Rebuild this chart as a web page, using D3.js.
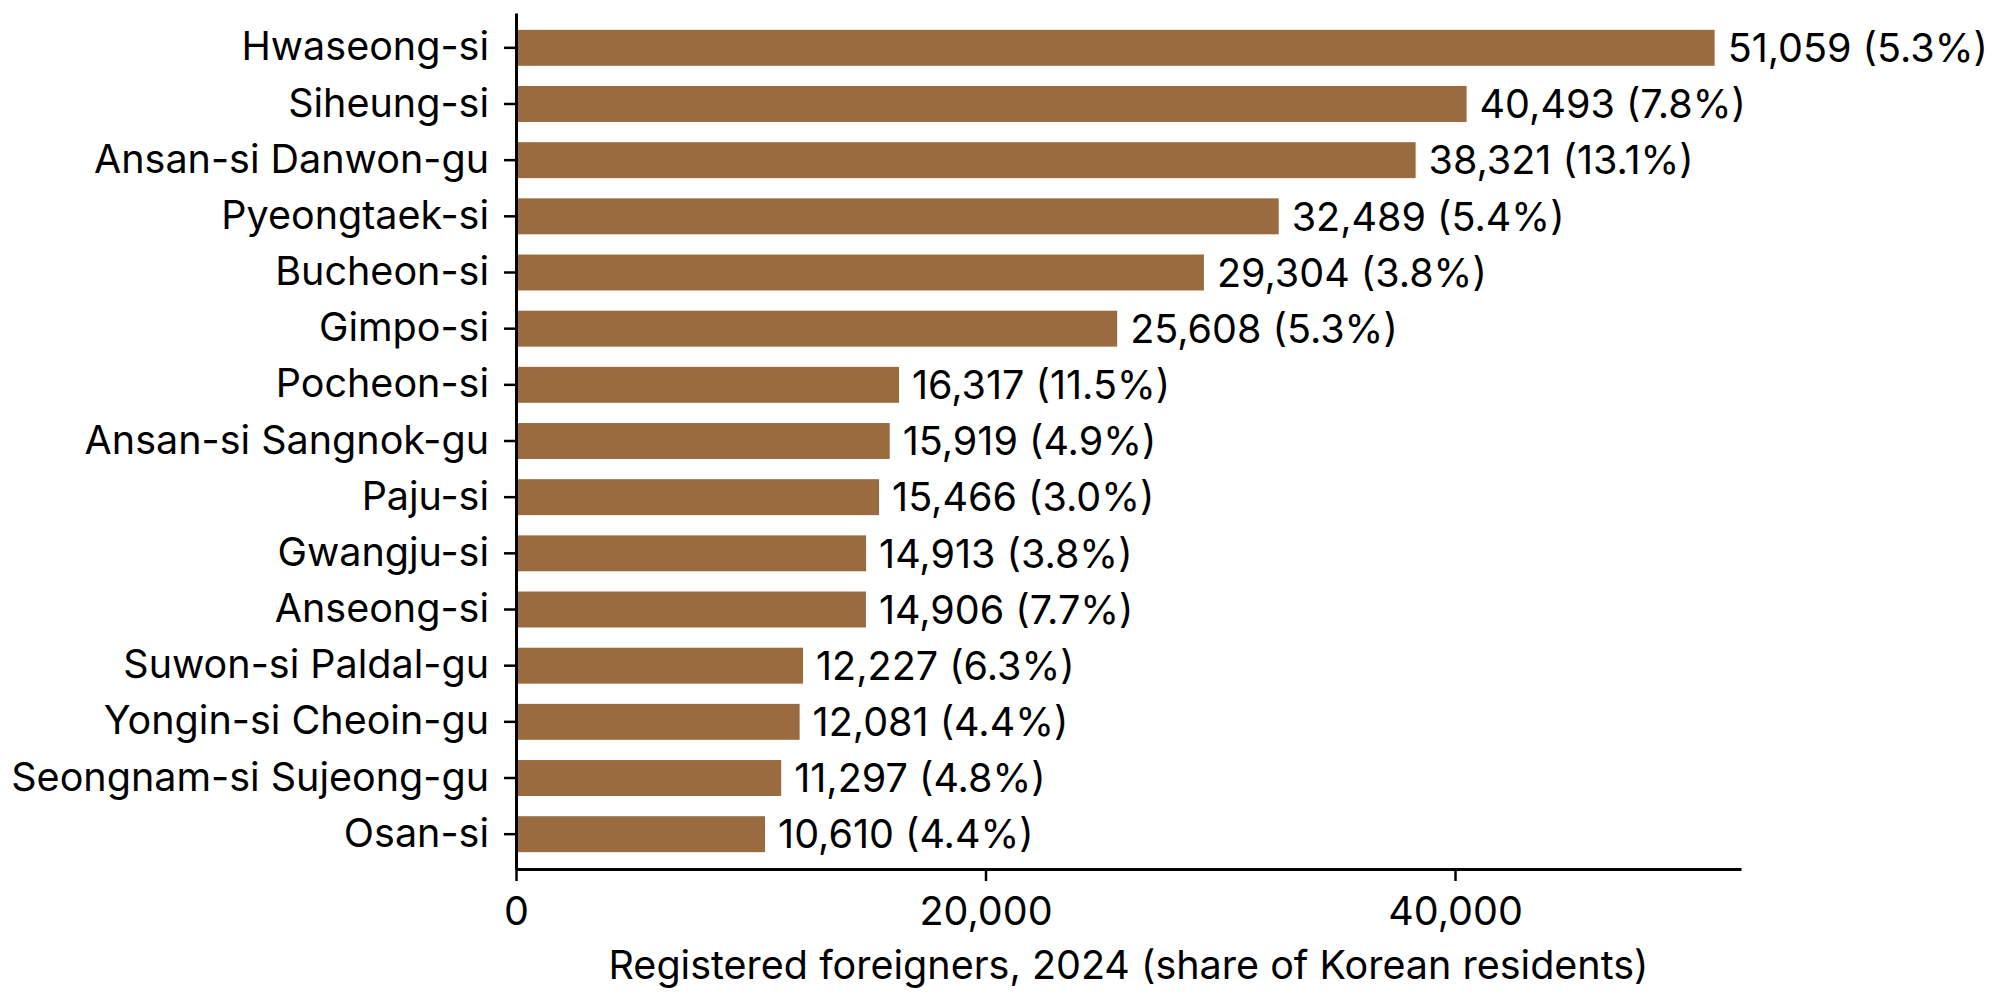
<!DOCTYPE html>
<html>
<head>
<meta charset="utf-8">
<script src="https://cdn.jsdelivr.net/npm/d3@7"></script>
<style>
  body { margin: 0; background: #fff; }
  svg { display: block; font-family: Inter, "Noto Sans", sans-serif; }
</style>
</head>
<body>
<div id="chart"></div>
<script>
// data
var districts = ["Hwaseong-si", "Siheung-si", "Ansan-si Danwon-gu", "Pyeongtaek-si",
  "Bucheon-si", "Gimpo-si", "Pocheon-si", "Ansan-si Sangnok-gu", "Paju-si",
  "Gwangju-si", "Anseong-si", "Suwon-si Paldal-gu", "Yongin-si Cheoin-gu",
  "Seongnam-si Sujeong-gu", "Osan-si"];

var foreigners = [51059, 40493, 38321, 32489, 29304, 25608, 16317, 15919, 15466,
  14913, 14906, 12227, 12081, 11297, 10610];

var shares = [5.3, 7.8, 13.1, 5.4, 3.8, 5.3, 11.5, 4.9, 3.0, 3.8, 7.7, 6.3, 4.4, 4.8, 4.4];

var xTicks = [0, 20000, 40000];
var xTitle = "Registered foreigners, 2024 (share of Korean residents)";

var w = 2007;
var h = 1004;
var fontSize = 39.5;
var barColor = "#996b3f";

// plot area (window.top is reserved, so use a margin object)
var plot = { left: 516, right: 1741, top: 13, bottom: 869 };

var svg = d3.select("#chart")
  .append("svg")
  .attr("width", w)
  .attr("height", h);

var x = d3.scaleLinear()
  .domain([0, d3.max(foreigners) * 1.022])
  .range([plot.left, plot.right]);

var y = d3.scaleBand()
  .domain(districts)
  .range([plot.top, plot.bottom])
  .paddingInner(0.36)
  .paddingOuter(0.3);

// bars
svg.append("g")
  .selectAll("rect")
  .data(districts)
  .enter()
  .append("rect")
  .attr("fill", barColor)
  .attr("x", x(0))
  .attr("y", function(d) { return y(d); })
  .attr("width", function(d, i) { return x(foreigners[i]) - x(0); })
  .attr("height", y.bandwidth());

// value labels
svg.append("g")
  .selectAll("text")
  .data(districts)
  .enter()
  .append("text")
  .attr("x", function(d, i) { return x(foreigners[i]) + 13; })
  .attr("y", function(d) { return y(d) + y.bandwidth() / 2; })
  .attr("dy", "0.36em")
  .attr("font-size", fontSize)
  .attr("fill", "#000")
  .text(function(d, i) { return d3.format(",")(foreigners[i]) + " (" + shares[i].toFixed(1) + "%)"; });

// y axis
var yAxis = svg.append("g")
  .attr("transform", "translate(" + plot.left + ",0)")
  .call(d3.axisLeft(y).tickSize(12).tickSizeOuter(0).tickPadding(15));

// x axis
var xAxis = svg.append("g")
  .attr("transform", "translate(0," + plot.bottom + ")")
  .call(d3.axisBottom(x).tickValues(xTicks).tickFormat(d3.format(",")).tickSize(12).tickSizeOuter(0).tickPadding(16));

[yAxis, xAxis].forEach(function(a) {
  a.select(".domain").attr("stroke", "#000").attr("stroke-width", 3);
  a.selectAll(".tick line").attr("stroke", "#000").attr("stroke-width", 2.5);
  a.selectAll(".tick text")
    .attr("font-size", fontSize)
    .attr("font-family", "Inter, 'Noto Sans', sans-serif")
    .attr("fill", "#000");
});

svg.append("text")
  .attr("x", (plot.left + plot.right) / 2)
  .attr("y", 979)
  .attr("text-anchor", "middle")
  .attr("font-size", fontSize)
  .attr("fill", "#000")
  .text(xTitle);
</script>
</body>
</html>
